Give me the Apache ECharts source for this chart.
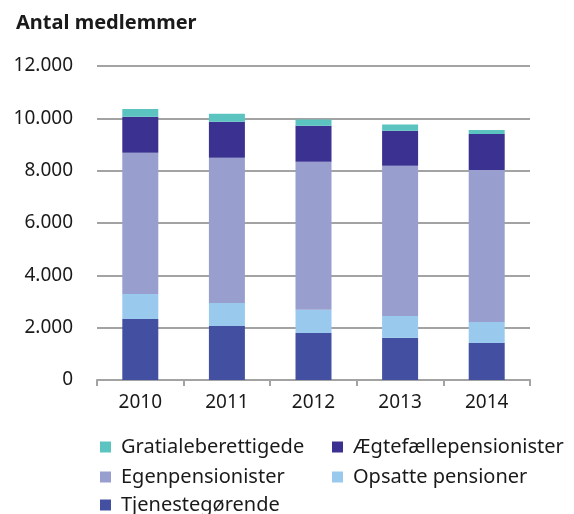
<!DOCTYPE html>
<html><head><meta charset="utf-8">
<script src="https://cdn.jsdelivr.net/npm/echarts@6/dist/echarts.min.js"></script>
<style>html,body{margin:0;padding:0;background:#fff}#c{width:574px;height:514px}</style>
</head><body><div id="c"></div>
<script>
const years = ['2010','2011','2012','2013','2014'];
const tjenestegorende = [2330, 2065, 1800, 1610, 1415];
const opsatte = [960, 880, 880, 840, 800];
const egen = [5390, 5545, 5660, 5740, 5810];
const aegte = [1380, 1377, 1377, 1340, 1380];
const gratiale = [300, 306, 240, 230, 150];
const yTicks = ['0','2.000','4.000','6.000','8.000','10.000','12.000'];

const font = 'Noto Sans';
const colors = {
  'Tjenestegørende': '#4350a2',
  'Opsatte pensioner': '#99caed',
  'Egenpensionister': '#989fce',
  'Ægtefællepensionister': '#3a3190',
  'Gratialeberettigede': '#5bc4c0'
};
const seriesDefs = [
  ['Tjenestegørende', tjenestegorende],
  ['Opsatte pensioner', opsatte],
  ['Egenpensionister', egen],
  ['Ægtefællepensionister', aegte],
  ['Gratialeberettigede', gratiale]
];
const legendPos = [
  ['Gratialeberettigede', 100, 436],
  ['Ægtefællepensionister', 332, 436],
  ['Egenpensionister', 100, 466],
  ['Opsatte pensioner', 332, 466],
  ['Tjenestegørende', 100, 494]
];
const chart = echarts.init(document.getElementById('c'));
chart.setOption({
  animation: false,
  title: { text: 'Antal medlemmer', left: 11, top: 8,
    textStyle: { fontFamily: font, fontWeight: 'bold', fontSize: 20, color: '#1a1a1a' } },
  legend: legendPos.map(([n, x, y]) => ({
    data: [n], left: x, top: y, itemWidth: 11, itemHeight: 11, itemGap: 0,
    icon: 'rect', padding: 0,
    textStyle: { fontFamily: font, fontSize: 20, lineHeight: 22, color: '#1a1a1a', padding: [0, 0, 0, 5] }
  })),
  grid: { left: 97, right: 44, top: 66, bottom: 134 },
  xAxis: {
    type: 'category', data: years,
    axisLine: { lineStyle: { color: '#a3a3a3', width: 2 } },
    axisTick: { show: true, length: 6, lineStyle: { color: '#a3a3a3', width: 2 } },
    axisLabel: { fontFamily: font, fontSize: 19, color: '#1a1a1a', margin: 13 }
  },
  yAxis: {
    type: 'value', min: 0, max: 12000, interval: 2000,
    axisLine: { show: false }, axisTick: { show: false },
    splitLine: { lineStyle: { color: '#a3a3a3', width: 2 } },
    axisLabel: { fontFamily: font, fontSize: 19, color: '#1a1a1a', margin: 24, padding: [0, 0, 5, 0],
      formatter: v => yTicks[Math.round(v / 2000)] }
  },
  series: seriesDefs.map(([n, d]) => ({
    name: n, type: 'bar', stack: 'a', data: d, barWidth: 36,
    itemStyle: { color: colors[n] }
  }))
});
</script></body></html>
